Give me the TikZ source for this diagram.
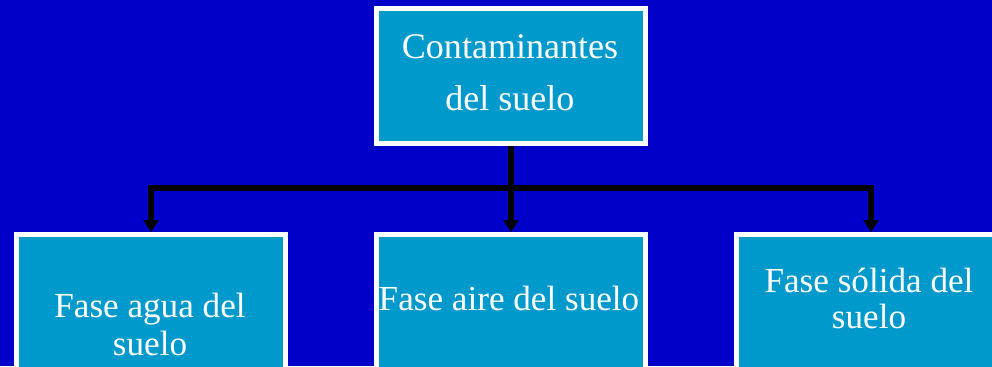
\documentclass[tikz,border=0pt]{standalone}
\usepackage{fontspec}
\setmainfont{Liberation Serif}
\usetikzlibrary{arrows.meta}
\definecolor{fondo}{RGB}{0,0,200}
\definecolor{celeste}{RGB}{0,153,204}
\tikzset{
  caja/.style={draw=white,fill=celeste,line width=2.85pt,minimum width=5.38cm,minimum height=2.7cm,inner sep=0pt},
  cajabaja/.style={caja,anchor=north,minimum height=4cm},
  texto/.style={text=white,align=center,inner sep=0pt},
  linea/.style={draw=black,line width=3.2pt},
  flecha/.style={linea,-{Triangle[width=0.3cm,length=0.24cm]}}
}
\begin{document}
\begin{tikzpicture}[x=0.02cm,y=-0.02cm]
    \fill[fondo] (0,0) rectangle (992,366);
    \useasboundingbox (0,0) rectangle (992,366);
    \clip (0,0) rectangle (992,366);
    \node[caja] (contam) at (511,76) {};
    \node[cajabaja] (agua) at (151,232) {};
    \node[cajabaja] (aire) at (511,232) {};
    \node[cajabaja] (solida) at (871,232) {};
    \node[texto,font={\fontsize{20.5}{29.6}\selectfont}] (contam-txt) at (510,73) {Contaminantes\\del suelo};
    \node[texto,font={\fontsize{20}{21.6}\selectfont}] (agua-txt) at (150,324) {Fase agua del\\suelo};
    \node[texto,font={\fontsize{20}{20.5}\selectfont}] (aire-txt) at (509,298) {Fase aire del suelo};
    \node[texto,font={\fontsize{20}{20.5}\selectfont}] (solida-txt) at (869,298) {Fase sólida del\\suelo};
    \coordinate (rama) at (511,188);
    \draw[linea] (contam) -- (rama);
    \draw[flecha] (rama) -| (agua);
    \draw[flecha] (rama) -- (aire);
    \draw[flecha] (rama) -| (solida);
\end{tikzpicture}
\end{document}
